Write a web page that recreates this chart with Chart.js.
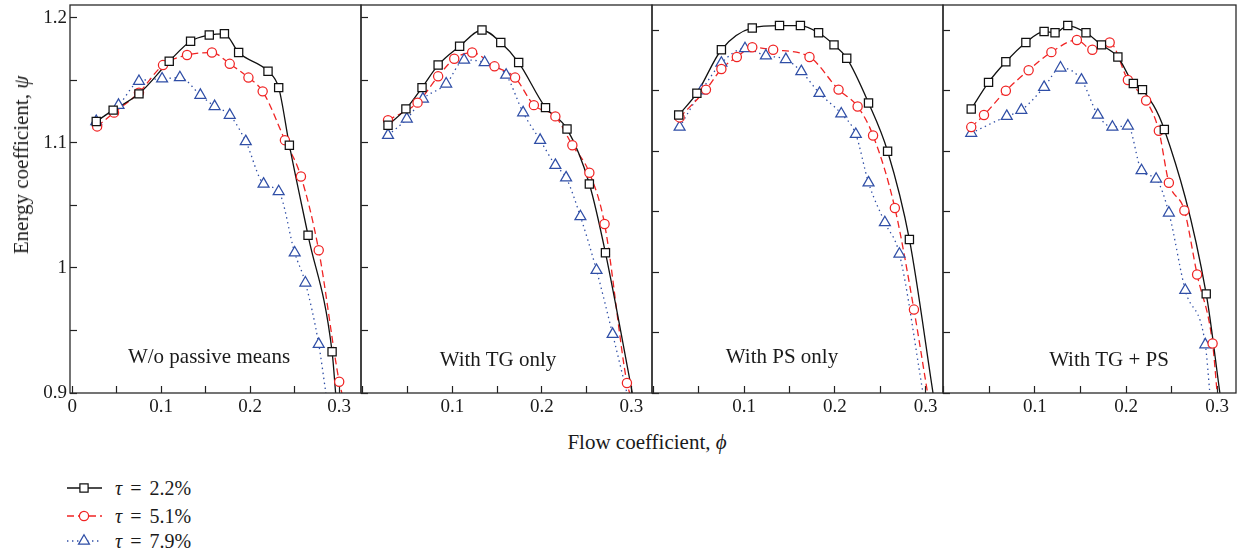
<!DOCTYPE html>
<html>
<head>
<meta charset="utf-8">
<script src="https://cdn.jsdelivr.net/npm/chart.js@4.4.1/dist/chart.umd.min.js"></script>
<style>
  body { margin: 0; background: #fff; }
  #wrap { position: relative; width: 1238px; height: 554px; overflow: hidden;
          font-family: "Liberation Serif", "DejaVu Serif", serif; color: #1a1a1a; }
  #wrap canvas { position: absolute; top: 0; }
  .lbl { position: absolute; white-space: nowrap; font-size: 21px; line-height: 20px; transform: translateX(-50%); }
  .ttl { position: absolute; white-space: nowrap; font-size: 21px; line-height: 22px; }
  .leg { position: absolute; left: 65px; height: 20px; }
  .leg canvas { position: absolute; left: 0; top: 0; }
  .leg span { position: absolute; left: 50px; top: -1px; white-space: nowrap; font-size: 20px; line-height: 22px; word-spacing: 3px; }
</style>
</head>
<body>
<div id="wrap"></div>
<script>
// ---- data: phi (flow coefficient), psi (energy coefficient) ----
const panelNames = ["W/o passive means", "With TG only", "With PS only", "With TG + PS"];
const seriesLabels = ["2.2%", "5.1%", "7.9%"];

const xTicks = [0, 0.05, 0.1, 0.15, 0.2, 0.25, 0.3];
const xTickLabels = ["0", "", "0.1", "", "0.2", "", "0.3"];
const yTicks = [0.9, 0.95, 1.0, 1.05, 1.1, 1.15, 1.2];
const yTickLabels = ["0.9", "", "1", "", "1.1", "", "1.2"];

// axis ranges per panel
const xMin = [-0.0025, -0.0022, -0.0014, -0.001];
const xMax = [0.3245, 0.323, 0.319, 0.3207];
const yMin = [0.9, 0.9, 0.9, 0.9];
const yMax = [1.21, 1.21, 1.221, 1.221];

// W/o passive means
const wo22 = [[0.027,1.117],[0.046,1.126],[0.075,1.139],[0.109,1.165],[0.133,1.181],[0.154,1.186],[0.171,1.187],[0.187,1.172],[0.220,1.157],[0.232,1.144],[0.244,1.098],[0.265,1.026],[0.292,0.933]];
const wo51 = [[0.028,1.113],[0.047,1.124],[0.075,1.140],[0.102,1.162],[0.129,1.170],[0.157,1.172],[0.177,1.163],[0.198,1.152],[0.214,1.141],[0.239,1.102],[0.257,1.073],[0.277,1.014],[0.300,0.909]];
const wo79 = [[0.027,1.117],[0.052,1.130],[0.075,1.149],[0.101,1.151],[0.121,1.152],[0.144,1.138],[0.160,1.129],[0.177,1.122],[0.195,1.101],[0.215,1.067],[0.232,1.061],[0.250,1.012],[0.262,0.988],[0.277,0.939]];

// With TG only
const tg22 = [[0.028,1.114],[0.048,1.127],[0.066,1.144],[0.084,1.162],[0.108,1.177],[0.133,1.190],[0.154,1.180],[0.174,1.164],[0.204,1.128],[0.228,1.111],[0.253,1.067],[0.271,1.012]];
const tg51 = [[0.028,1.118],[0.061,1.132],[0.084,1.153],[0.102,1.167],[0.122,1.172],[0.147,1.161],[0.170,1.152],[0.191,1.130],[0.215,1.121],[0.234,1.098],[0.253,1.076],[0.270,1.035],[0.295,0.908]];
const tg79 = [[0.028,1.106],[0.049,1.119],[0.067,1.135],[0.093,1.147],[0.113,1.166],[0.136,1.164],[0.160,1.154],[0.179,1.124],[0.198,1.102],[0.215,1.082],[0.227,1.072],[0.243,1.041],[0.261,0.998],[0.279,0.947]];

// With PS only
const ps22 = [[0.028,1.130],[0.048,1.148],[0.075,1.184],[0.109,1.202],[0.139,1.204],[0.162,1.204],[0.182,1.198],[0.199,1.188],[0.213,1.177],[0.237,1.140],[0.258,1.100],[0.282,1.027]];
const ps51 = [[0.029,1.128],[0.058,1.151],[0.075,1.168],[0.092,1.178],[0.109,1.186],[0.132,1.184],[0.172,1.178],[0.204,1.151],[0.225,1.137],[0.242,1.113],[0.266,1.053],[0.287,0.969]];
const ps79 = [[0.029,1.120],[0.053,1.150],[0.075,1.173],[0.101,1.185],[0.124,1.179],[0.146,1.176],[0.163,1.166],[0.183,1.148],[0.207,1.131],[0.223,1.114],[0.237,1.074],[0.255,1.041],[0.271,1.015]];

// With TG + PS
const tp22 = [[0.030,1.135],[0.049,1.157],[0.068,1.174],[0.090,1.190],[0.110,1.199],[0.122,1.198],[0.136,1.204],[0.156,1.198],[0.173,1.188],[0.191,1.178],[0.208,1.156],[0.218,1.151],[0.242,1.118],[0.288,0.982]];
const tp51 = [[0.030,1.120],[0.044,1.130],[0.068,1.150],[0.093,1.167],[0.118,1.182],[0.146,1.192],[0.163,1.184],[0.182,1.190],[0.202,1.159],[0.222,1.142],[0.236,1.117],[0.247,1.074],[0.264,1.051],[0.278,0.998],[0.295,0.941]];
const tp79 = [[0.030,1.115],[0.069,1.129],[0.085,1.134],[0.110,1.153],[0.128,1.169],[0.151,1.159],[0.169,1.130],[0.185,1.120],[0.202,1.121],[0.217,1.084],[0.233,1.077],[0.247,1.049],[0.265,0.985],[0.287,0.940]];

// phi where each fitted curve leaves the plot at psi = 0.9
const curveEnds = [[0.296, 0.303, 0.285], [0.301, 0.298, 0.295], [0.308, 0.302, 0.297], [0.303, 0.300, 0.292]];

const panelData = [[wo22, wo51, wo79], [tg22, tg51, tg79], [ps22, ps51, ps79], [tp22, tp51, tp79]];

// ---- styles ----
const styles = [
  { color: "#111111", dash: [], point: "rect", r: 5.8 },
  { color: "#f02424", dash: [7, 4], point: "circle", r: 4.6 },
  { color: "#2f4ea6", dash: [1.4, 3.6], point: "triangle", r: 6.3 },
];
const FONT = "'Liberation Serif', 'DejaVu Serif', serif";
const edges = [70, 361, 652, 943, 1236];
const labelPos = [[209, 363], [498, 366], [782, 363], [1109, 366]];

const frame = {
  id: "frame",
  afterDraw(c) {
    const a = c.chartArea, g = c.ctx;
    g.save();
    g.strokeStyle = "#2a2a2a";
    g.lineWidth = 1.3;
    g.strokeRect(a.left, a.top, a.right - a.left, a.bottom - a.top);
    g.restore();
  }
};

const wrap = document.getElementById("wrap");

function makePanel(i) {
  const left = edges[i], right = edges[i + 1];
  const padL = i === 0 ? 70 : 2, padR = 2;
  const cv = document.createElement("canvas");
  cv.width = right - left + padL + padR;
  cv.height = 420;
  cv.style.left = (left - padL) + "px";
  wrap.appendChild(cv);

  const datasets = [];
  panelData[i].forEach((pts, k) => {
    const st = styles[k];
    datasets.push({
      label: "τ = " + seriesLabels[k],
      data: pts.map(p => ({ x: p[0], y: p[1] })),
      showLine: false,
      pointStyle: st.point,
      pointRadius: st.r,
      pointBorderWidth: 1.25,
      pointBorderColor: st.color,
      pointBackgroundColor: "#fff",
      order: 0,
    });
    datasets.push({
      label: "fit " + seriesLabels[k],
      data: pts.map(p => ({ x: p[0], y: p[1] })).concat([{ x: curveEnds[i][k], y: yMin[i] }]),
      borderColor: st.color,
      borderWidth: 1.3,
      borderDash: st.dash,
      pointRadius: 0,
      cubicInterpolationMode: "monotone",
      fill: false,
      order: 1,
    });
  });

  new Chart(cv, {
    type: "line",
    data: { datasets },
    options: {
      responsive: false,
      animation: false,
      devicePixelRatio: 1,
      layout: { autoPadding: false, padding: { top: 5, right: padR, left: 0, bottom: 0 } },
      plugins: { legend: { display: false }, tooltip: { enabled: false } },
      scales: {
        x: {
          type: "linear",
          min: xMin[i], max: xMax[i],
          afterBuildTicks: s => { s.ticks = xTicks.map(v => ({ value: v })); },
          afterFit: s => { s.height = 27; s.paddingLeft = 0; s.paddingRight = 0; },
          border: { display: false },
          grid: { drawOnChartArea: false, tickLength: -7, tickColor: "#222", tickWidth: 1.2 },
          ticks: {
            padding: 10, maxRotation: 0, autoSkip: false, color: "#1a1a1a",
            font: { family: FONT, size: 19 },
            callback: (v, idx) => (i > 0 && idx === 0) ? "" : xTickLabels[idx],
          },
        },
        y: {
          type: "linear",
          min: yMin[i], max: yMax[i],
          afterBuildTicks: s => { s.ticks = yTicks.map(v => ({ value: v })); },
          afterFit: s => { s.width = padL; s.paddingTop = 0; s.paddingBottom = 0; },
          border: { display: false },
          grid: { drawOnChartArea: false, tickLength: -7, tickColor: "#222", tickWidth: 1.2 },
          ticks: {
            padding: 10, autoSkip: false, color: "#1a1a1a",
            font: { family: FONT, size: 19 },
            callback: (v, idx) => i === 0 ? yTickLabels[idx] : "",
          },
        },
      },
    },
    plugins: [frame],
  });

  const lb = document.createElement("div");
  lb.className = "lbl";
  lb.textContent = panelNames[i];
  lb.style.left = labelPos[i][0] + "px";
  lb.style.top = (labelPos[i][1] - 17) + "px";
  wrap.appendChild(lb);
}

for (let i = 0; i < 4; i++) makePanel(i);

// axis titles
const xt = document.createElement("div");
xt.className = "ttl";
xt.innerHTML = "Flow coefficient, <i>ϕ</i>";
xt.style.left = "647px"; xt.style.top = "442px";
xt.style.transform = "translate(-50%, -50%)";
wrap.appendChild(xt);

const yt = document.createElement("div");
yt.className = "ttl";
yt.innerHTML = "Energy coefficient, <i>ψ</i>";
yt.style.left = "21px"; yt.style.top = "165px";
yt.style.transform = "translate(-50%, -50%) rotate(-90deg)";
wrap.appendChild(yt);

// legend
const legRows = [488, 516, 541];
styles.forEach((st, k) => {
  const row = document.createElement("div");
  row.className = "leg";
  row.style.top = (legRows[k] - 10) + "px";
  const c = document.createElement("canvas");
  c.width = 40; c.height = 20;
  row.appendChild(c);
  const sp = document.createElement("span");
  sp.innerHTML = "<i>τ</i> = " + seriesLabels[k];
  row.appendChild(sp);
  wrap.appendChild(row);

  const g = c.getContext("2d");
  g.strokeStyle = st.color;
  g.lineWidth = 1.3;
  g.setLineDash(st.dash);
  g.beginPath(); g.moveTo(2, 10); g.lineTo(37, 10); g.stroke();
  g.setLineDash([]);
  g.fillStyle = "#fff";
  g.lineWidth = 1.25;
  const cx = 19, cy = 10;
  g.beginPath();
  if (st.point === "rect") {
    const s = st.r * Math.SQRT1_2;
    g.rect(cx - s, cy - s, 2 * s, 2 * s);
  } else if (st.point === "circle") {
    g.arc(cx, cy, st.r, 0, Math.PI * 2);
  } else {
    g.moveTo(cx, cy - st.r);
    g.lineTo(cx + st.r * Math.sin(2 * Math.PI / 3), cy - st.r * Math.cos(2 * Math.PI / 3));
    g.lineTo(cx - st.r * Math.sin(2 * Math.PI / 3), cy - st.r * Math.cos(2 * Math.PI / 3));
    g.closePath();
  }
  g.fill(); g.stroke();
});
</script>
</body>
</html>
